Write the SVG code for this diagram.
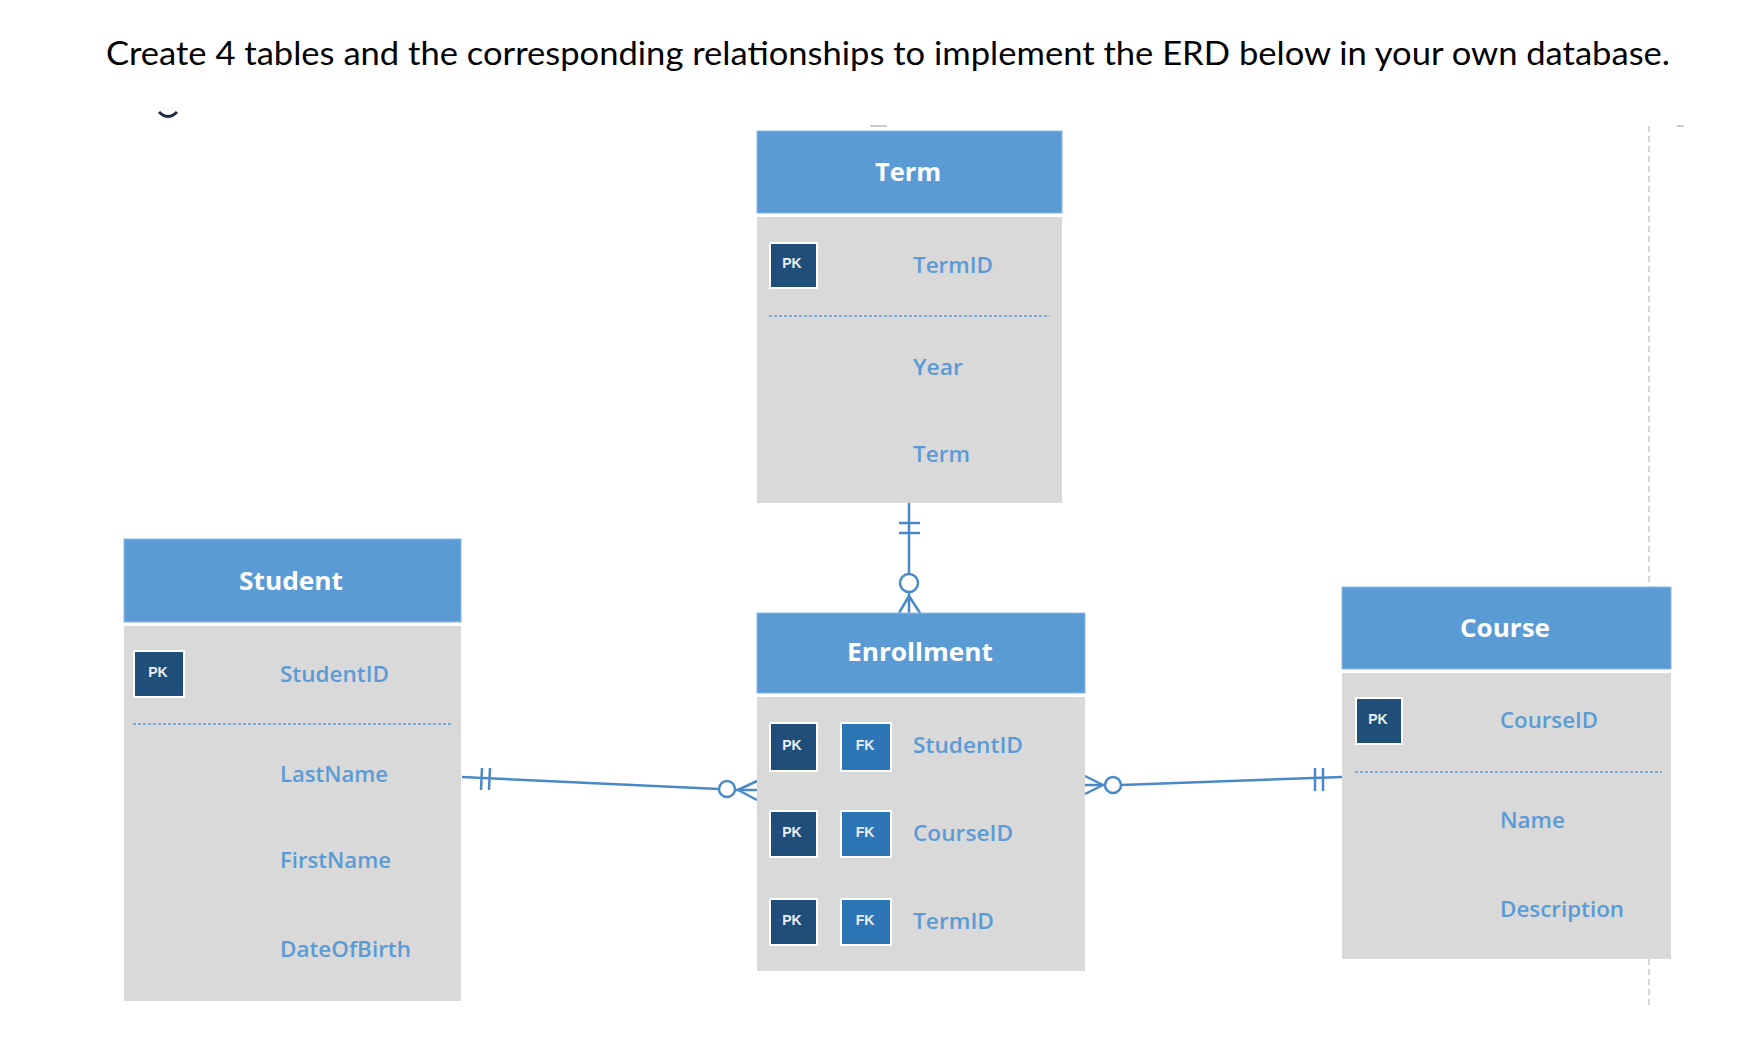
<svg xmlns="http://www.w3.org/2000/svg" width="1754" height="1042" viewBox="0 0 1754 1042">
<style>
.hdr{fill:#5B9BD5;stroke:#8DB9E3;stroke-width:1}
.body{fill:#D9D9D9}
.ttl{font-family:"Open Sans","Liberation Sans",sans-serif;font-weight:700;font-size:25px;fill:#ffffff;text-anchor:middle}
.attr{font-family:"Open Sans","Liberation Sans",sans-serif;font-weight:600;font-size:21px;fill:#5B9BD5}
.pk{fill:#1F4E79;stroke:#ffffff;stroke-width:2}
.fk{fill:#2E75B6;stroke:#ffffff;stroke-width:2}
.key{font-family:"Liberation Sans",sans-serif;font-weight:700;font-size:14px;fill:#E8EEF5;text-anchor:middle}
.div{stroke:#5B9BD5;stroke-width:1.6;stroke-dasharray:3 2}
.con{stroke:#4A89C8;stroke-width:2.5;fill:none}
.circ{stroke:#4A89C8;stroke-width:2.5;fill:#ffffff}
</style>
<rect width="1754" height="1042" fill="#ffffff"/>
<text x="106" y="65" font-family="Lato,'Open Sans',sans-serif" font-size="33" fill="#000000" textLength="1564" lengthAdjust="spacingAndGlyphs">Create 4 tables and the corresponding relationships to implement the ERD below in your own database.</text>

<g id="decor">
<path d="M159,112 Q168,121 177,112" stroke="#1F2A44" stroke-width="3" fill="none"/>
<line x1="870" y1="126" x2="887" y2="126" stroke="#cccccc" stroke-width="2"/>
<line x1="1677" y1="126" x2="1684" y2="126" stroke="#cccccc" stroke-width="2"/>
<line x1="1649" y1="126" x2="1649" y2="587" stroke="#d6d6d6" stroke-width="2" stroke-dasharray="6 4"/>
<line x1="1649" y1="959" x2="1649" y2="1008" stroke="#d6d6d6" stroke-width="2" stroke-dasharray="6 4"/>
</g>

<g id="connectors">
<!-- Term - Enrollment -->
<line class="con" x1="909" y1="503" x2="909" y2="574"/>
<line class="con" x1="899" y1="523" x2="920" y2="523"/>
<line class="con" x1="899" y1="533" x2="920" y2="533"/>
<circle class="circ" cx="909" cy="583" r="9"/>
<line class="con" x1="909" y1="592" x2="909" y2="613"/>
<line class="con" x1="909" y1="596" x2="899" y2="613"/>
<line class="con" x1="909" y1="596" x2="920" y2="613"/>
<!-- Student - Enrollment -->
<line class="con" x1="462" y1="777" x2="719" y2="789"/>
<line class="con" x1="482" y1="768" x2="481" y2="790"/>
<line class="con" x1="490" y1="768" x2="489" y2="790"/>
<circle class="circ" cx="727" cy="789" r="8"/>
<line class="con" x1="735" y1="790" x2="757" y2="790"/>
<line class="con" x1="738" y1="790" x2="757" y2="781"/>
<line class="con" x1="738" y1="790" x2="757" y2="800"/>
<!-- Enrollment - Course -->
<line class="con" x1="1121" y1="785" x2="1342" y2="777"/>
<line class="con" x1="1315" y1="768" x2="1315" y2="791"/>
<line class="con" x1="1323" y1="768" x2="1323" y2="791"/>
<circle class="circ" cx="1113" cy="785" r="8"/>
<line class="con" x1="1085" y1="785" x2="1105" y2="785"/>
<line class="con" x1="1103" y1="785" x2="1085" y2="776"/>
<line class="con" x1="1103" y1="785" x2="1085" y2="794"/>
</g>

<g id="term">
<rect class="hdr" x="757" y="131" width="305" height="82"/>
<rect class="body" x="757" y="217" width="305" height="286"/>
<text class="ttl" x="908" y="181" textLength="66" lengthAdjust="spacingAndGlyphs">Term</text>
<rect class="pk" x="770" y="243" width="47" height="45"/>
<text class="key" x="792" y="268">PK</text>
<text class="attr" x="913" y="273" textLength="80" lengthAdjust="spacingAndGlyphs">TermID</text>
<line class="div" x1="769" y1="316" x2="1050" y2="316"/>
<text class="attr" x="913" y="375" textLength="50" lengthAdjust="spacingAndGlyphs">Year</text>
<text class="attr" x="913" y="462" textLength="57" lengthAdjust="spacingAndGlyphs">Term</text>
</g>

<g id="enrollment">
<rect class="hdr" x="757" y="613" width="328" height="80"/>
<rect class="body" x="757" y="697" width="328" height="274"/>
<text class="ttl" x="920" y="661" textLength="146" lengthAdjust="spacingAndGlyphs">Enrollment</text>
<rect class="pk" x="770" y="723" width="47" height="48"/>
<text class="key" x="792" y="750">PK</text>
<rect class="fk" x="841" y="723" width="50" height="48"/>
<text class="key" x="865" y="750">FK</text>
<text class="attr" x="913" y="753" textLength="110" lengthAdjust="spacingAndGlyphs">StudentID</text>
<rect class="pk" x="770" y="811" width="47" height="46"/>
<text class="key" x="792" y="837">PK</text>
<rect class="fk" x="841" y="811" width="50" height="46"/>
<text class="key" x="865" y="837">FK</text>
<text class="attr" x="913" y="841" textLength="100" lengthAdjust="spacingAndGlyphs">CourseID</text>
<rect class="pk" x="770" y="899" width="47" height="46"/>
<text class="key" x="792" y="925">PK</text>
<rect class="fk" x="841" y="899" width="50" height="46"/>
<text class="key" x="865" y="925">FK</text>
<text class="attr" x="913" y="929" textLength="81" lengthAdjust="spacingAndGlyphs">TermID</text>
</g>

<g id="student">
<rect class="hdr" x="124" y="539" width="337" height="83"/>
<rect class="body" x="124" y="626" width="337" height="375"/>
<text class="ttl" x="291" y="590" textLength="104" lengthAdjust="spacingAndGlyphs">Student</text>
<rect class="pk" x="134" y="651" width="50" height="46"/>
<text class="key" x="158" y="677">PK</text>
<text class="attr" x="280" y="682" textLength="109" lengthAdjust="spacingAndGlyphs">StudentID</text>
<line class="div" x1="133" y1="724" x2="452" y2="724"/>
<text class="attr" x="280" y="782" textLength="108" lengthAdjust="spacingAndGlyphs">LastName</text>
<text class="attr" x="280" y="868" textLength="111" lengthAdjust="spacingAndGlyphs">FirstName</text>
<text class="attr" x="280" y="957" textLength="131" lengthAdjust="spacingAndGlyphs">DateOfBirth</text>
</g>

<g id="course">
<rect class="hdr" x="1342" y="587" width="329" height="82"/>
<rect class="body" x="1342" y="673" width="329" height="286"/>
<text class="ttl" x="1505" y="637" textLength="90" lengthAdjust="spacingAndGlyphs">Course</text>
<rect class="pk" x="1356" y="698" width="46" height="46"/>
<text class="key" x="1378" y="724">PK</text>
<text class="attr" x="1500" y="728" textLength="98" lengthAdjust="spacingAndGlyphs">CourseID</text>
<line class="div" x1="1355" y1="772" x2="1662" y2="772"/>
<text class="attr" x="1500" y="828" textLength="65" lengthAdjust="spacingAndGlyphs">Name</text>
<text class="attr" x="1500" y="917" textLength="124" lengthAdjust="spacingAndGlyphs">Description</text>
</g>
</svg>
